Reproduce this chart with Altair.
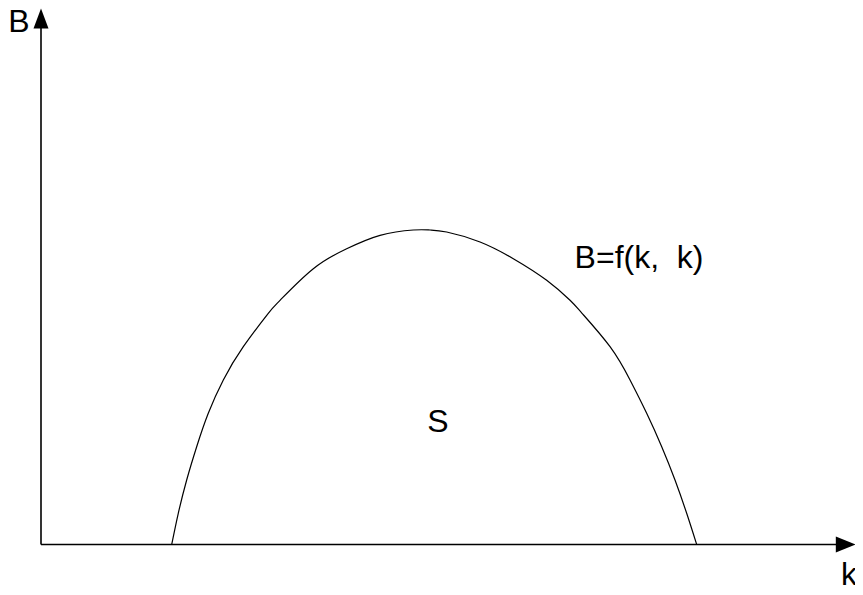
import altair as alt
import pandas as pd

# curve B = f(k, k)
curve_k = [1.634, 1.716, 1.821, 1.946, 2.091, 2.279, 2.529, 2.841, 2.988, 3.404,
           3.821, 4.238, 4.654, 4.863, 5.071, 5.488, 5.904, 6.321, 6.613, 6.763,
           7.113, 7.363, 7.571, 7.759, 7.925, 8.071, 8.196]
curve_B = [0.0, 0.624, 1.29, 1.956, 2.624, 3.29, 3.956, 4.624, 4.884, 5.516,
           5.916, 6.184, 6.29, 6.29, 6.25, 6.05, 5.716, 5.284, 4.884, 4.624,
           3.956, 3.29, 2.624, 1.956, 1.29, 0.624, 0.0]

# axis extents (data units)
k_axis_end = 9.95
B_axis_end = 10.33
k_arrow = 10.06
B_arrow = 10.52

# labels
NB = "\u00a0"
label_text = ["B", "k", "S", "B=f(k," + NB + NB + "k)"]
label_k = [-0.41, 10.0, 4.96, 6.67]
label_B = [10.25, -0.81, 2.26, 5.53]
label_align = ["left", "left", "center", "left"]

xs = alt.Scale(domain=[-0.4125, 10.175], nice=False, zero=False)
ys = alt.Scale(domain=[-0.85, 10.73], nice=False, zero=False)

curve_df = pd.DataFrame({"k": curve_k, "B": curve_B})
curve = alt.Chart(curve_df).mark_line(color="black", strokeWidth=1.2,
                                      interpolate="natural").encode(
    x=alt.X("k:Q", scale=xs, axis=None),
    y=alt.Y("B:Q", scale=ys, axis=None),
)

xaxis_df = pd.DataFrame({"k": [0.0], "k2": [k_axis_end], "B": [0.0]})
xaxis = alt.Chart(xaxis_df).mark_rule(color="black", strokeWidth=1.6).encode(
    x=alt.X("k:Q", scale=xs, axis=None), x2="k2:Q",
    y=alt.Y("B:Q", scale=ys, axis=None),
)
yaxis_df = pd.DataFrame({"k": [0.0], "B": [0.0], "B2": [B_axis_end]})
yaxis = alt.Chart(yaxis_df).mark_rule(color="black", strokeWidth=1.6).encode(
    x=alt.X("k:Q", scale=xs, axis=None),
    y=alt.Y("B:Q", scale=ys, axis=None), y2="B2:Q",
)

up_df = pd.DataFrame({"k": [0.0], "B": [B_arrow]})
up_arrow = alt.Chart(up_df).mark_point(
    shape="M0,-1L0.75,1L-0.75,1Z", size=400, filled=True, color="black", opacity=1
).encode(x=alt.X("k:Q", scale=xs, axis=None), y=alt.Y("B:Q", scale=ys, axis=None))

right_df = pd.DataFrame({"k": [k_arrow], "B": [0.0]})
right_arrow = alt.Chart(right_df).mark_point(
    shape="M1,0L-1,-0.8L-1,0.8Z", size=400, filled=True, color="black", opacity=1
).encode(x=alt.X("k:Q", scale=xs, axis=None), y=alt.Y("B:Q", scale=ys, axis=None))

lab_df = pd.DataFrame({"t": label_text, "k": label_k, "B": label_B, "a": label_align})
labels = []
for al in ["left", "center"]:
    labels.append(
        alt.Chart(lab_df[lab_df["a"] == al]).mark_text(
            align=al, baseline="alphabetic", font="Liberation Sans",
            fontSize=32, color="black"
        ).encode(
            x=alt.X("k:Q", scale=xs, axis=None),
            y=alt.Y("B:Q", scale=ys, axis=None),
            text="t:N",
        )
    )

chart = alt.layer(xaxis, yaxis, curve, up_arrow, right_arrow, *labels).properties(
    width=847, height=579, padding=0,
    autosize=alt.AutoSizeParams(type="none"),
    background="white",
).configure_view(stroke=None)

chart.save("out.html", embed_options={"renderer": "svg", "actions": False})
